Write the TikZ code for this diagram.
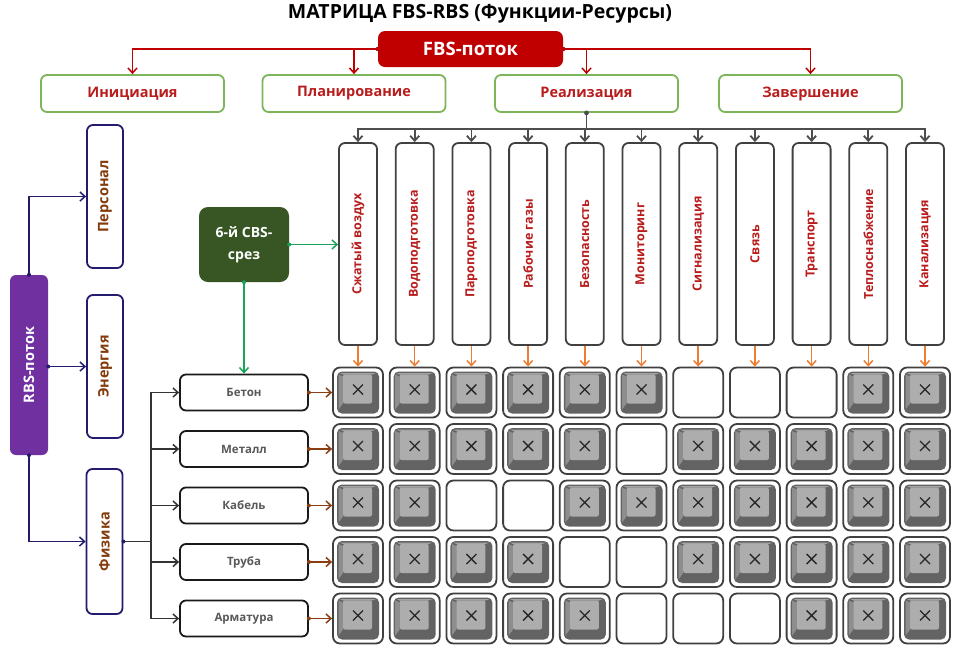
\documentclass[tikz,border=0pt]{standalone}
\usepackage{fontspec}
\setmainfont{Open Sans}
\usetikzlibrary{arrows.meta}
\definecolor{fbsred}{HTML}{C00000}
\definecolor{phasegreen}{HTML}{7DB55A}
\definecolor{txtred}{HTML}{B81C1C}
\definecolor{conngray}{HTML}{4D4D4D}
\definecolor{boxgray}{HTML}{404040}
\definecolor{arrorange}{HTML}{ED7D31}
\definecolor{arrbrown}{HTML}{8B3E12}
\definecolor{navy}{HTML}{231C6E}
\definecolor{rbspurple}{HTML}{7030A0}
\definecolor{cbsgreen}{HTML}{375623}
\definecolor{arrgreen}{HTML}{1BA35A}
\definecolor{resbrown}{HTML}{843C0C}
\definecolor{restext}{HTML}{595959}
\definecolor{keydark}{HTML}{636363}
\definecolor{keymid}{HTML}{8E8E8E}
\definecolor{keyface}{HTML}{ADADAD}
\def\rowA{1,1,1,1,1,1,0,0,0,1,1}
\def\rowB{1,1,1,1,1,0,1,1,1,1,1}
\def\rowC{1,1,0,0,1,1,1,1,1,1,1}
\def\rowD{1,1,1,1,0,0,1,1,1,1,1}
\def\rowE{1,1,1,1,1,0,0,0,1,1,1}
\begin{document}
\begin{tikzpicture}[x=1pt,y=-1pt,
  barb/.style={arrows={-Straight Barb[length=5pt,width=9pt]}},
  titlestyle/.style={font=\bfseries\fontsize{19.5}{22}\selectfont, text=black},
  fbsbox/.style={fill=fbsred, rounded corners=7pt, minimum width=185, minimum height=36, inner sep=0, text=white, font=\bfseries\fontsize{18.5}{20}\selectfont},
  phasebox/.style={draw=phasegreen, line width=1.8pt, fill=white, rounded corners=6pt, minimum width=183, minimum height=37, inner sep=0, text=txtred, font=\bfseries\fontsize{14.5}{17}\selectfont},
  colbox/.style={draw=boxgray, line width=1.8pt, fill=white, rounded corners=6pt, minimum width=38, minimum height=202, inner sep=0, text=txtred, font=\bfseries\fontsize{12.5}{14}\selectfont},
  cellbox/.style={draw=boxgray, line width=1.8pt, fill=white, rounded corners=7pt, minimum size=50, inner sep=0},
  resbox/.style={draw=black!90, line width=1.8pt, fill=white, rounded corners=6pt, minimum width=128, minimum height=36, inner sep=0, text=restext, font=\bfseries\fontsize{11.5}{13}\selectfont},
  rbsbox/.style={fill=rbspurple, rounded corners=6pt, minimum width=38, minimum height=180, inner sep=0, text=white, font=\bfseries\fontsize{14.5}{16}\selectfont},
  leftbox/.style={draw=navy, line width=1.8pt, fill=white, rounded corners=6pt, minimum width=36, minimum height=143, inner sep=0, text=resbrown, font=\bfseries\fontsize{14.5}{16}\selectfont},
  cbsbox/.style={fill=cbsgreen, rounded corners=9pt, minimum width=90, minimum height=75, inner sep=0, text=white, align=center, font=\bfseries\fontsize{14}{22}\selectfont},
  redline/.style={draw=fbsred, line width=1.5pt},
  grayline/.style={draw=conngray, line width=1.8pt},
  orangeline/.style={draw=arrorange, line width=1.5pt},
  brownline/.style={draw=arrbrown, line width=1.5pt},
  navyline/.style={draw=navy, line width=1.5pt},
  greenline/.style={draw=arrgreen, line width=1.5pt},
  hubline/.style={draw=black!80, line width=1.5pt}
]
\useasboundingbox (0,0) rectangle (960,654);
\fill[white] (0,0) rectangle (960,654);

% title
\node[titlestyle] (title) at (480,14) {МАТРИЦА FBS-RBS (Функции-Ресурсы)};

% FBS flow
\node[fbsbox] (fbs) at (470.5,49) {FBS-поток};
\node[phasebox] (ini) at (132.5,93.5) {Инициация};
\node[phasebox] (plan) at (354,93.5) {Планирование};
\node[phasebox] (real) at (586.5,93.5) {Реализация};
\node[phasebox] (fin) at (810.5,93.5) {Завершение};
\draw[redline,barb] (fbs.west) -| (ini.north);
\draw[redline,barb] (fbs.west) -| (plan.north);
\draw[redline,barb] (fbs.east) -| (fin.north);
\draw[redline,barb] (fbs.east) -| (real.north);
\fill[fbsred] (fbs.west) circle (2.2pt) (fbs.east) circle (2.2pt);

% function columns
\foreach \txt [count=\i] in {Сжатый воздух,Водоподготовка,Пароподготовка,Рабочие газы,Безопасность,Мониторинг,Сигнализация,Связь,Транспорт,Теплоснабжение,Канализация}{
  \pgfmathsetmacro\cx{358+56.7*(\i-1)}
  \node[colbox] (col\i) at (\cx,244) {\rotatebox{90}{\txt}};
  \draw[grayline,barb] (real.south) -- ++(0,16) -| (col\i.north);
}
\fill[conngray] (real.south) circle (2.4pt);

% matrix cells
\foreach \r/\y/\pat in {1/392.5/\rowA,2/449/\rowB,3/505.5/\rowC,4/562/\rowD,5/618.5/\rowE}{
  \edef\patlist{\pat}
  \foreach \v [count=\c] in \patlist {
    \pgfmathsetmacro\cx{358+56.7*(\c-1)}
    \node[cellbox] (m\r-\c) at (\cx,\y) {};
    \ifnum\v=1
      \begin{scope}[shift={(m\r-\c.center)}]
        \fill[keydark,rounded corners=5pt] (-21,-21) rectangle (21,21);
        \fill[keymid] (-19.5,-18) -- (-15,-16) -- (-15,11) -- (-19.5,17) -- cycle;
        \fill[keymid!80!white] (-18,-19.5) -- (18,-19.5) -- (14,-18) -- (-15,-18) -- cycle;
        \fill[keyface,rounded corners=2pt] (-15,-18) rectangle (14,11);
        \draw[line width=1.3pt,black!85] (-5,-8) -- (5,2) (-5,2) -- (5,-8);
      \end{scope}
    \fi
  }
}
\foreach \i in {1,...,11}{
  \draw[orangeline,barb] (col\i.south) -- (m1-\i.north);
}

% resources
\foreach \txt/\y [count=\r] in {Бетон/392.5,Металл/449,Кабель/505.5,Труба/562,Арматура/618.5}{
  \node[resbox] (res\r) at (244,\y) {\txt};
  \draw[brownline,barb] (res\r.east) -- (m\r-1.west);
  \fill[arrbrown] (res\r.east) circle (2pt);
}

% CBS
\node[cbsbox] (cbs) at (244,244.5) {6-й CBS-\\срез};
\draw[greenline,barb] (cbs.east) -- (cbs.east -| col1.west);
\draw[greenline,barb] (cbs.south) -- (cbs.south |- res1.north);
\fill[arrgreen] (cbs.east) circle (2pt) (cbs.south) circle (2pt);

% RBS flow
\node[rbsbox] (rbs) at (29,365) {\rotatebox{90}{RBS-поток}};
\node[leftbox] (pers) at (105,196.5) {\rotatebox{90}{Персонал}};
\node[leftbox] (ener) at (105,366.5) {\rotatebox{90}{Энергия}};
\node[leftbox, minimum height=145] (fiz) at (104.5,541.5) {\rotatebox{90}{Физика}};
\draw[navyline,barb] (rbs.north) |- (pers.west);
\draw[navyline,barb] (rbs.east |- ener.west) -- (ener.west);
\draw[navyline,barb] (rbs.south) |- (fiz.west);
\fill[navy] (rbs.north) circle (2pt) (rbs.east |- ener.west) circle (2pt) (rbs.south) circle (2pt);

\coordinate (hub) at (151,541.5);
\draw[hubline] (fiz.east) -- (hub);
\fill[navy] (fiz.east) circle (2pt);
\foreach \r in {1,...,5}{
  \draw[hubline,barb] (hub) |- (res\r.west);
}
\end{tikzpicture}
\end{document}
